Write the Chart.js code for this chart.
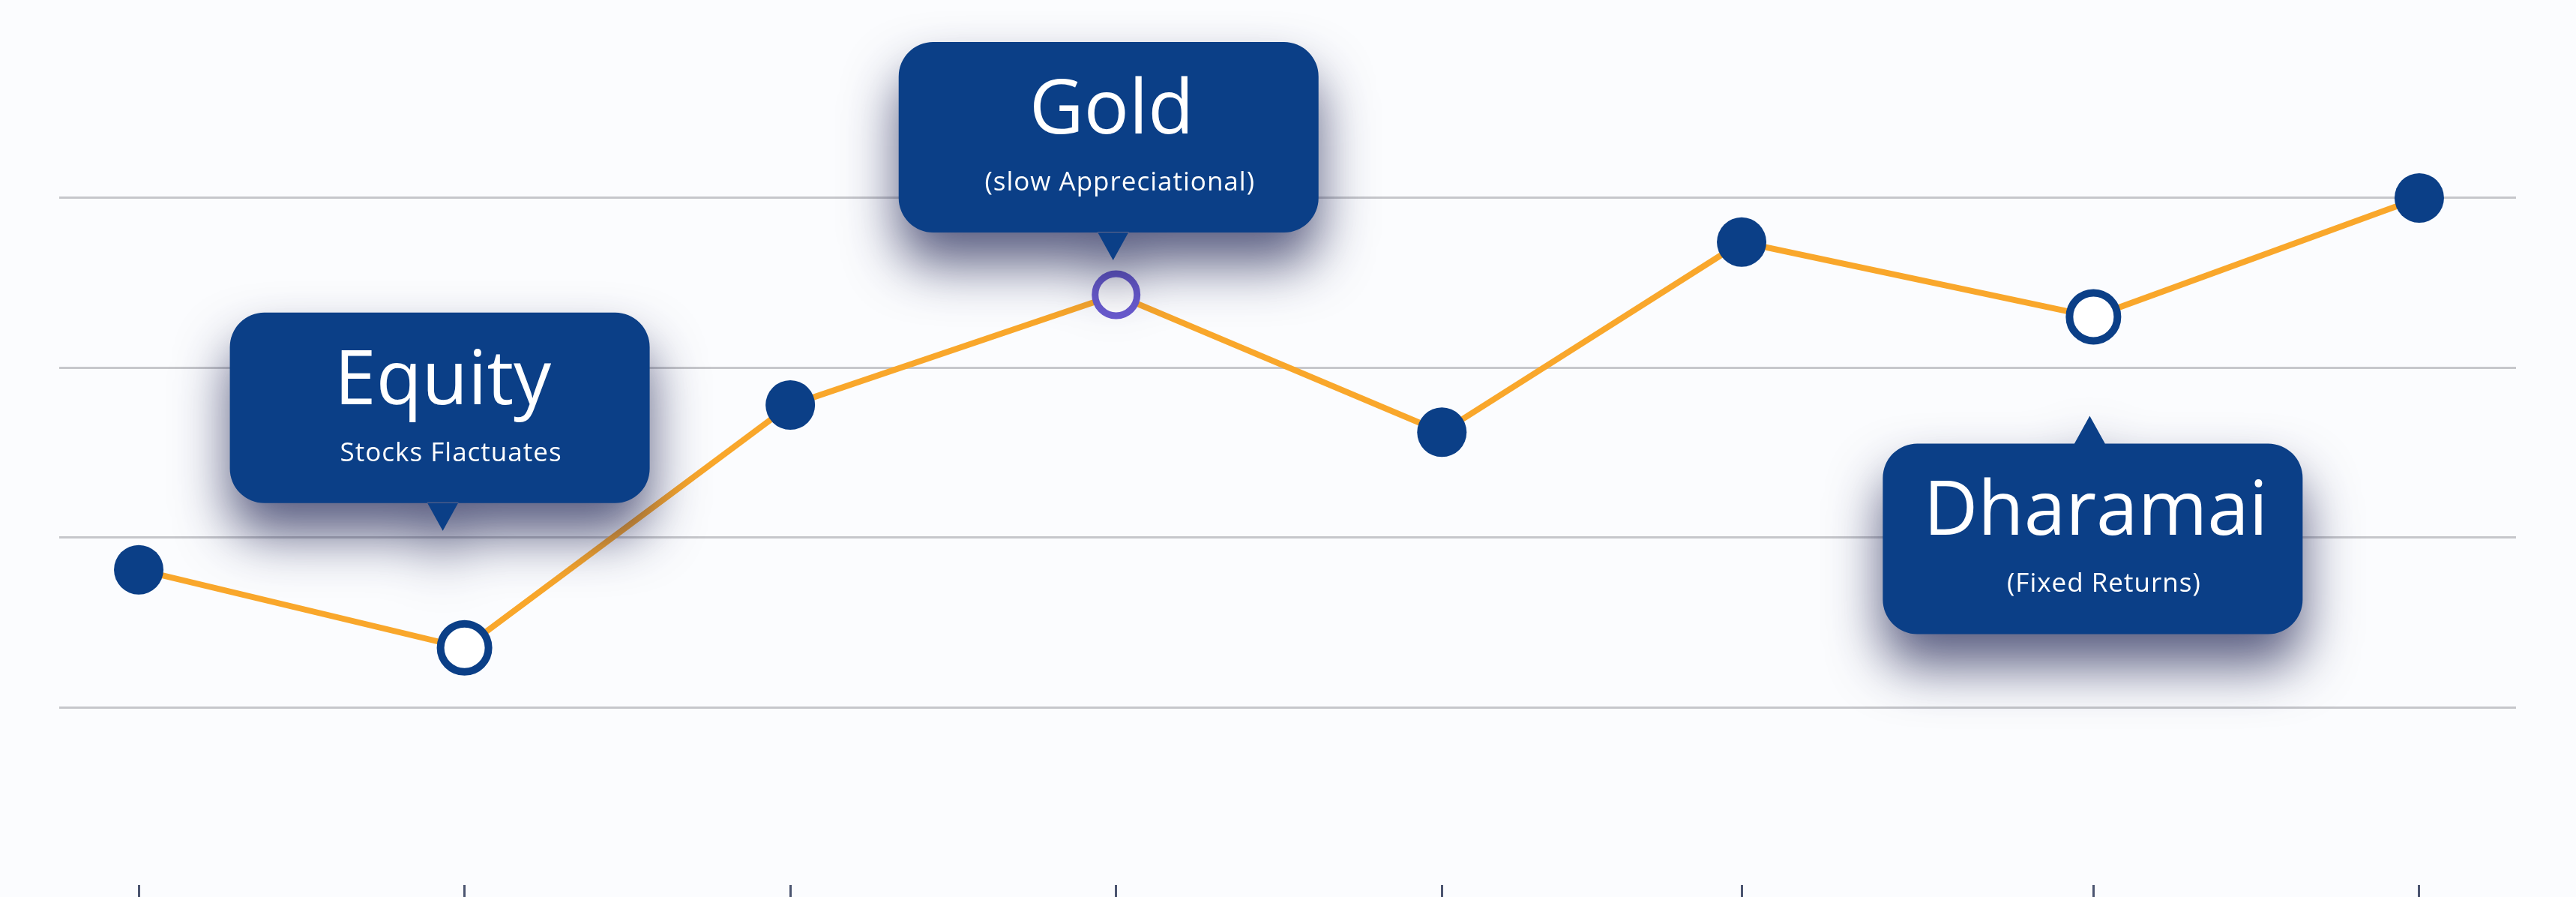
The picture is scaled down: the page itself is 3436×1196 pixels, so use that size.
<!DOCTYPE html>
<html>
<head>
<meta charset="utf-8">
<script src="https://cdn.jsdelivr.net/npm/chart.js@4.4.0/dist/chart.umd.min.js"></script>
<style>
  html, body { margin: 0; padding: 0; background: #fbfcfe; }
  #wrap { width: 3436px; height: 1196px; position: relative; }
</style>
</head>
<body>
<div id="wrap"><canvas id="growthChart"></canvas></div>
<script>
// Posiciones en el eje x (el sexto punto está algo desplazado en el original)
const xPositions = [0, 1, 2, 3, 4, 4.92, 6, 7];
// Valores de la serie
const growthValues = [1.81, 1.35, 2.78, 3.43, 2.62, 3.74, 3.30, 4.0];
// Líneas de cuadrícula horizontales
const gridValues = [1, 2, 3, 4];

// Globos explicativos
const calloutIndex = [1, 3, 6];
const calloutTitles = ['Equity', 'Gold', 'Dharamai'];
const calloutNotes = ['Stocks Flactuates', '(slow Appreciational)', '(Fixed Returns)'];
const calloutSides = ['above', 'above', 'below'];

const NAVY = '#0b3f87';
const ORANGE = '#f9a72b';
const VIOLET = '#6a5bcf';

// Estilo de cada punto
const hollow = [1, 6];
const pointBg = growthValues.map((v, i) => (hollow.includes(i) || i === 3) ? '#ffffff' : NAVY);
const pointBorder = growthValues.map((v, i) => i === 3 ? VIOLET : NAVY);
const pointRadius = growthValues.map((v, i) => i === 3 ? 28 : (hollow.includes(i) ? 32 : 33));
const pointBorderW = growthValues.map((v, i) => i === 3 ? 9 : (hollow.includes(i) ? 10 : 0));

// Ajustes de dibujo de cada globo (desplazamientos en píxeles)
const calloutStyle = [
    { boxDx: -33, tipDx: -29, gap: 156 },
    { boxDx: -10, tipDx: -4, gap: 46 },
    { boxDx: -1, tipDx: -5, gap: 132 }
];

const calloutPlugin = {
    id: 'callouts',
    afterDatasetsDraw(chart) {
        const ctx = chart.ctx;
        const meta = chart.getDatasetMeta(0);
        const W = 560, H = 254, R = 46, AW = 21, AH = 37;

        calloutIndex.forEach((idx, k) => {
            const pt = meta.data[idx];
            const st = calloutStyle[k];
            const above = calloutSides[k] === 'above';
            const tipX = pt.x + st.tipDx;
            const tipY = above ? pt.y - st.gap : pt.y + st.gap;
            const baseY = above ? tipY - AH : tipY + AH;
            const boxX = pt.x + st.boxDx - W / 2;
            const boxY = above ? baseY - H : baseY;

            ctx.save();
            ctx.shadowColor = 'rgba(28, 32, 80, 0.72)';
            ctx.shadowBlur = 70;
            ctx.shadowOffsetY = 42;
            ctx.fillStyle = NAVY;
            ctx.beginPath();
            ctx.roundRect(boxX, boxY, W, H, R);
            const edge = above ? baseY - 1 : baseY + 1;
            ctx.moveTo(tipX - AW, edge);
            ctx.lineTo(tipX, tipY);
            ctx.lineTo(tipX + AW, edge);
            ctx.closePath();
            ctx.fill();
            ctx.restore();

            ctx.save();
            ctx.fillStyle = '#ffffff';
            ctx.textAlign = 'center';
            ctx.textBaseline = 'alphabetic';
            ctx.font = '400 100px "Open Sans", sans-serif';
            ctx.fillText(calloutTitles[k], boxX + W / 2 + 4, boxY + 122);
            ctx.textBaseline = 'middle';
            ctx.font = '400 35px "Open Sans", sans-serif';
            ctx.letterSpacing = '1px';
            ctx.fillText(calloutNotes[k], boxX + W / 2 + 15, boxY + 188);
            ctx.restore();
        });
    }
};

const bgPlugin = {
    id: 'bg',
    beforeDraw(chart) {
        const ctx = chart.ctx;
        ctx.save();
        ctx.fillStyle = '#fbfcfe';
        ctx.fillRect(0, 0, chart.width, chart.height);
        ctx.restore();
    }
};

new Chart(document.getElementById('growthChart'), {
    type: 'line',
    data: {
        datasets: [{
            data: xPositions.map((x, i) => ({ x: x, y: growthValues[i] })),
            borderColor: ORANGE,
            borderWidth: 8,
            tension: 0,
            fill: false,
            clip: false,
            pointBackgroundColor: pointBg,
            pointBorderColor: pointBorder,
            pointRadius: pointRadius,
            pointBorderWidth: pointBorderW,
            pointHoverRadius: pointRadius
        }]
    },
    options: {
        responsive: true,
        maintainAspectRatio: false,
        animation: false,
        events: [],
        layout: {
            autoPadding: false,
            padding: { left: 79, right: 80, top: 0, bottom: 0 }
        },
        plugins: {
            legend: { display: false },
            tooltip: { enabled: false }
        },
        scales: {
            x: {
                type: 'linear',
                min: -0.244,
                max: 7.297,
                afterBuildTicks: axis => {
                    axis.ticks = xPositions.map(v => ({ value: v }));
                },
                ticks: { display: false },
                border: { display: false },
                grid: {
                    drawOnChartArea: false,
                    drawTicks: true,
                    tickLength: 16,
                    tickColor: '#4b5570',
                    tickWidth: 3
                }
            },
            y: {
                min: -0.047,
                max: 5.166,
                afterBuildTicks: axis => {
                    axis.ticks = gridValues.map(v => ({ value: v }));
                },
                ticks: { display: false },
                border: { display: false },
                grid: {
                    color: '#c6c7cb',
                    lineWidth: 3,
                    drawTicks: false
                }
            }
        }
    },
    plugins: [bgPlugin, calloutPlugin]
});
</script>
</body>
</html>
